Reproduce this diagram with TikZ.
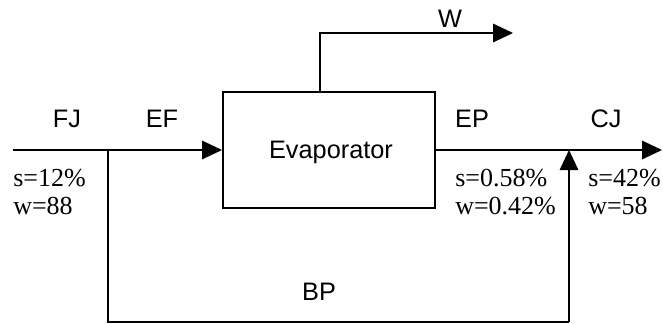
\documentclass[tikz,border=0pt]{standalone}
\usepackage{fontspec}
\setmainfont{Liberation Serif}
\newfontfamily\arialfont{Liberation Sans}
\usetikzlibrary{arrows.meta,calc}

\begin{document}
\begin{tikzpicture}[
  x=1cm,
  y=1cm,
  line/.style={draw=black,line width=1.4pt},
  arrow/.style={line,-{Triangle[length=5mm,width=4.6mm]}},
  unit/.style={line,minimum width=5.3cm,minimum height=2.9cm},
  tag/.style={font=\arialfont\fontsize{18}{20}\selectfont,inner sep=0pt,anchor=base},
  comp/.style={font=\fontsize{18.5}{20}\selectfont,inner sep=0pt,anchor=base west}
]
\useasboundingbox (0,0) rectangle (16.575,8.075);

% ---------------------------------------------------------------- evaporator + vapour
\node[unit] (evap) at (8.225,4.325) {};
\node[tag] (evaplabel) at (8.275,4.125) {Evaporator};
\coordinate (wstart) at ($(evap.north)+(-0.225,0)$);
\coordinate (wend) at (12.825,7.25);
\draw[arrow] (wstart) |- (wend);
\node[tag] (wlabel) at (11.25,7.375) {W};

% ---------------------------------------------------------------- feed line
\coordinate (fjin) at (0.325,4.325);
\coordinate (split) at (2.7,4.325);
\draw[line] (fjin) -- (split);
\draw[arrow] (split) -- (evap.west);
\node[tag] (fj) at (1.675,4.9) {FJ};
\node[tag] (ef) at (4.05,4.9) {EF};
\node[comp] (feeds) at (0.325,3.425) {s=12\%};
\node[comp] (feedw) at (0.325,2.72) {w=88};

% ---------------------------------------------------------------- product line + mixing
\coordinate (mix) at (14.225,4.325);
\coordinate (cjout) at (16.55,4.325);
\draw[line] (evap.east) -- (mix);
\draw[arrow] (mix) -- (cjout);
\node[tag] (ep) at (11.8,4.9) {EP};
\node[tag] (cj) at (15.15,4.9) {CJ};
\node[comp] (eps) at (11.375,3.425) {s=0.58\%};
\node[comp] (epw) at (11.375,2.72) {w=0.42\%};
\node[comp] (cjs) at (14.7,3.425) {s=42\%};
\node[comp] (cjw) at (14.7,2.72) {w=58};

% ---------------------------------------------------------------- bypass
\coordinate (bpleft) at (2.7,0.03);
\coordinate (bpright) at (14.225,0.03);
\draw[line] (split) -- (bpleft) -- (bpright);
\draw[arrow] (bpright) -- (mix);
\node[tag] (bp) at (7.975,0.575) {BP};

\end{tikzpicture}
\end{document}
